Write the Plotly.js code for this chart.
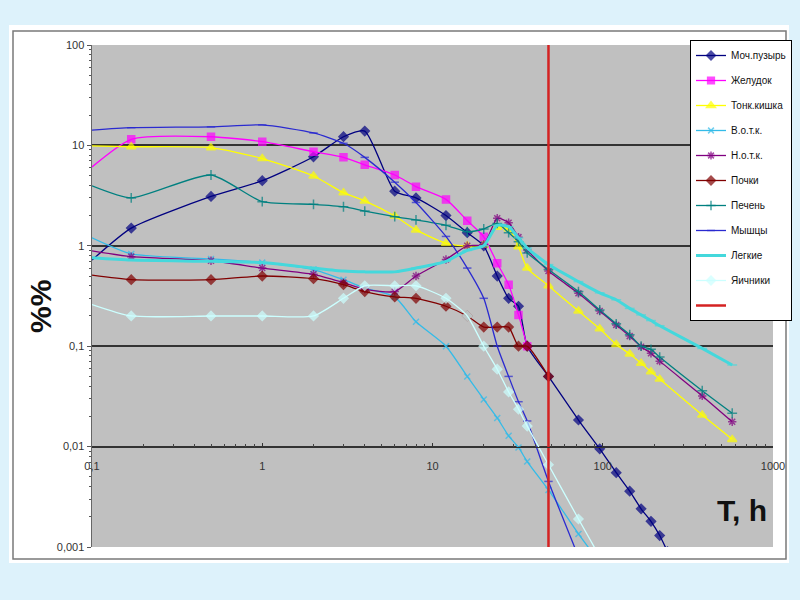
<!DOCTYPE html>
<html><head><meta charset="utf-8">
<script src="https://cdn.plot.ly/plotly-3.0.1.min.js"></script>
<style>html,body{margin:0;padding:0;background:#ddf2fb}</style>
</head><body><div id="chart" style="width:800px;height:600px"></div>
<script>
// time points, hours
const T = [0.1, 0.17, 0.5, 1, 2, 3, 4, 6, 8, 12, 16, 20, 24, 28, 32, 36, 48, 72, 96, 120, 144, 168, 192, 216, 240, 384, 576];

const seriesNames = ["Моч.пузырь", "Желудок", "Тонк.кишка", "В.о.т.к.", "Н.о.т.к.", "Почки", "Печень", "Мышцы", "Легкие", "Яичники"];

const mochPuzyr = [0.72, 1.5, 3.1, 4.45, 7.7, 12.2, 13.9, 3.5, 3.0, 2.0, 1.35, 1.0, 0.5, 0.3, 0.25, 0.1, 0.05, 0.0184, 0.0095, 0.0055, 0.0036, 0.0024, 0.0018, 0.0013, 0.0009, null, null];
const zheludok = [6.1, 11.5, 12.2, 10.9, 8.65, 7.6, 6.4, 5.07, 3.88, 2.9, 1.78, 1.23, 0.67, 0.41, 0.205, 0.1, null, null, null, null, null, null, null, null, null, null, null];
const tonkKishka = [9.9, 9.7, 9.5, 7.4, 4.96, 3.38, 2.8, 1.98, 1.44, 1.06, 1.0, 1.02, 1.53, 1.48, 0.98, 0.6, 0.4, 0.224, 0.149, 0.104, 0.0836, 0.0676, 0.0557, 0.047, null, 0.0206, 0.0118];
const votk = [1.2, 0.83, 0.74, 0.68, 0.58, 0.46, 0.38, 0.31, 0.175, 0.1, 0.05, 0.0295, 0.0193, 0.0128, 0.0098, 0.0071, 0.0037, 0.00135, 0.0007, null, null, null, null, null, null, null, null];
const notk = [0.89, 0.78, 0.71, 0.6, 0.52, 0.43, 0.37, 0.35, 0.5, 0.73, 1.0, 1.03, 1.88, 1.7, 1.22, 0.91, 0.56, 0.336, 0.224, 0.163, 0.126, 0.099, 0.085, 0.071, null, 0.032, 0.0177];
const pochki = [0.51, 0.46, 0.46, 0.5, 0.47, 0.41, 0.35, 0.31, 0.3, 0.25, 0.2, 0.155, 0.155, 0.155, 0.1, 0.1, 0.05, null, null, null, null, null, null, null, null, null, null];
const pechen = [3.95, 3.0, 5.07, 2.75, 2.59, 2.45, 2.22, 1.95, 1.81, 1.6, 1.38, 1.47, 1.67, 1.35, 1.1, 0.85, 0.58, 0.35, 0.23, 0.167, 0.13, 0.1, 0.093, 0.078, null, 0.036, 0.0215];
const myshcy = [14.2, 15, 15.3, 16, 13.3, 10.5, 7.6, 4.3, 2.7, 1.24, 0.6, 0.3, 0.1, 0.05, 0.028, 0.018, 0.0045, 0.0008, null, null, null, null, null, null, null, null, null];
const legkie = [0.76, 0.72, 0.7, 0.68, 0.6, 0.56, 0.55, 0.55, 0.6, 0.7, 0.9, 1.0, 1.6, 1.55, 1.2, 0.95, 0.65, 0.44, 0.34, 0.29, 0.238, 0.205, 0.18, 0.16, null, 0.095, 0.065];
const yaichniki = [0.26, 0.2, 0.2, 0.2, 0.2, 0.3, 0.4, 0.4, 0.4, 0.3, 0.2, 0.1, 0.059, 0.035, 0.0236, 0.016, 0.0066, 0.0019, 0.0008, null, null, null, null, null, null, null, null];

const markerLine = [48, 48];
const markerLineY = [0.001, 100];

const xTickVals = [0.1, 1, 10, 100, 1000];
const xTickText = ["0,1", "1", "10", "100", "1000"];
const yTickVals = [0.001, 0.01, 0.1, 1, 10, 100];
const yTickText = ["0,001", "0,01", "0,1", "1", "10", "100"];

const values = [mochPuzyr, zheludok, tonkKishka, votk, notk, pochki, pechen, myshcy, legkie, yaichniki];

const styles = [
  {color: "#000080", symbol: "diamond", size: 7, width: 1.3},
  {color: "#ff00ff", symbol: "square", size: 7, width: 1.3},
  {color: "#ffff00", symbol: "triangle-up", size: 8, width: 1.3},
  {color: "#33bbe8", symbol: "x-thin-open", size: 6, width: 1.3},
  {color: "#800080", symbol: "asterisk-open", size: 7, width: 1.3},
  {color: "#800000", symbol: "diamond", size: 7, width: 1.3},
  {color: "#008080", symbol: "cross-thin-open", size: 7, width: 1.3},
  {color: "#2a2ad0", symbol: "line-ew-open", size: 6, width: 1.3},
  {color: "#44d8dc", symbol: "line-ew-open", size: 7, width: 3},
  {color: "#ccffff", symbol: "diamond", size: 7, width: 1.3}
];

const traces = values.map((vals, i) => {
  const s = styles[i];
  return {
    type: "scatter", mode: "lines+markers",
    x: T, y: vals, name: seriesNames[i], legendgroup: "g" + i,
    connectgaps: true,
    line: {color: s.color, width: s.width, shape: "spline", smoothing: 0.6},
    marker: {symbol: s.symbol, color: s.color,
             size: T.map(t => t <= 0.1 ? 0 : s.size),
             line: {color: s.color, width: 1.5}}
  };
});

traces.push({
  type: "scatter", mode: "lines", x: markerLine, y: markerLineY,
  yaxis: "y2", name: " ", legendgroup: "gred",
  line: {color: "#d42222", width: 2.5}
});

// pixel helpers for the plot frame (plot area: x 92..773, y 45..547)
const PL = 92, PR = 773, PT = 45, PB = 547;
const fx = p => (p - PL) / (PR - PL);
const fy = p => (PB - p) / (PB - PT);

function minorVals(decades) {
  const out = [];
  decades.forEach(d => { for (let k = 2; k <= 9; k++) out.push(k * d); });
  return out;
}

const tickFont = {family: "Liberation Sans, Arial, sans-serif", size: 11, color: "#333"};

const layout = {
  width: 800, height: 600,
  margin: {l: PL, r: 800 - PR, t: PT, b: 600 - PB, pad: 0, autoexpand: false},
  paper_bgcolor: "#ddf2fb",
  plot_bgcolor: "#c0c0c0",
  separators: ", ",
  showlegend: true,
  xaxis: {
    type: "log", range: [-1, 3], anchor: "free", position: 0.2,
    showline: true, linecolor: "#333", linewidth: 1.5,
    ticks: "inside", ticklen: 4, tickcolor: "#333", tickwidth: 1,
    tickmode: "array", tickvals: xTickVals, ticktext: xTickText,
    ticklabelstandoff: 9,
    tickfont: tickFont, showgrid: false, zeroline: false,
    minor: {tickmode: "array", tickvals: minorVals([0.1, 1, 10, 100]), ticks: "inside", ticklen: 3, tickcolor: "#444", showgrid: false}
  },
  yaxis: {
    type: "log", range: [-3, 2],
    showline: true, linecolor: "#666", linewidth: 1.5,
    ticks: "outside", ticklen: 4, tickcolor: "#555",
    tickmode: "array", tickvals: yTickVals, ticktext: yTickText,
    tickfont: tickFont, showgrid: false, zeroline: false,
    minor: {tickmode: "array", tickvals: minorVals([0.001, 0.01, 0.1, 1, 10]), ticks: "outside", ticklen: 2, tickcolor: "#555", showgrid: false}
  },
  yaxis2: {
    type: "log", range: [-3, 2], overlaying: "y", anchor: "x",
    showline: false, ticks: "", showticklabels: false,
    tickmode: "array", tickvals: [0.01, 0.1, 1, 10],
    showgrid: true, gridcolor: "#333", gridwidth: 2, zeroline: false
  },
  legend: {
    x: fx(690), y: fy(40), xanchor: "left", yanchor: "top",
    bgcolor: "#ffffff", bordercolor: "#000", borderwidth: 1,
    font: {family: "Liberation Sans, Arial, sans-serif", size: 10, color: "#111"},
    tracegroupgap: 6, itemwidth: 30, traceorder: "grouped"
  },
  shapes: [
    {type: "rect", xref: "paper", yref: "paper", x0: fx(9), x1: fx(789), y0: fy(563), y1: fy(25),
     fillcolor: "#ffffff", line: {width: 0}, layer: "below"},
    {type: "rect", xref: "paper", yref: "paper", x0: fx(13), x1: fx(786), y0: fy(559), y1: fy(31),
     fillcolor: "rgba(0,0,0,0)", line: {color: "#7a7a7a", width: 1.5}, layer: "below"},
    {type: "rect", xref: "paper", yref: "paper", x0: 0, x1: 1, y0: 0, y1: 1,
     fillcolor: "#c0c0c0", line: {width: 0}, layer: "below"}
  ],
  annotations: [
    {text: "%%", xref: "paper", yref: "paper", x: fx(40), y: fy(307), xanchor: "center", yanchor: "middle",
     showarrow: false, textangle: -90,
     font: {family: "Liberation Sans, Arial, sans-serif", size: 30, weight: "bold", color: "#111"}},
    {text: "T, h", xref: "paper", yref: "paper", x: fx(742), y: fy(510), xanchor: "center", yanchor: "middle",
     showarrow: false,
     font: {family: "Liberation Sans, Arial, sans-serif", size: 30, weight: "bold", color: "#111"}}
  ]
};

Plotly.newPlot("chart", traces, layout, {displayModeBar: false, staticPlot: true});
</script></body></html>
